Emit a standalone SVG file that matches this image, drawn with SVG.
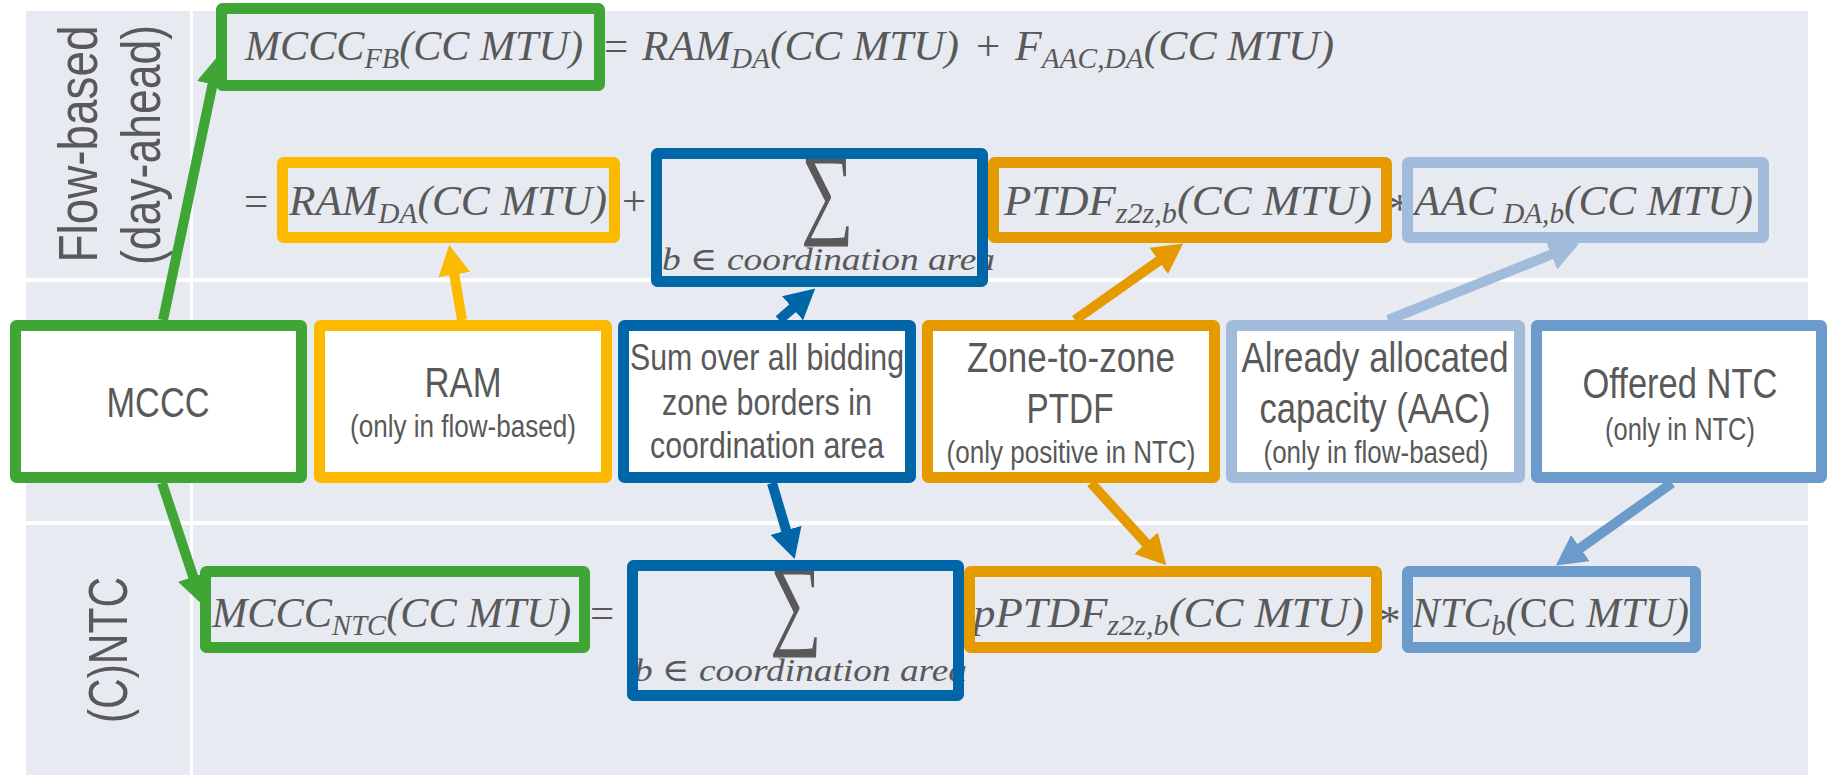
<svg xmlns="http://www.w3.org/2000/svg" width="1829" height="775" viewBox="0 0 1829 775">
<style>
.eq{font-family:"Liberation Serif","DejaVu Serif",serif;font-style:italic;font-size:43px;fill:#595959}
.up{font-family:"Liberation Serif","DejaVu Serif",serif;font-style:normal;font-size:43px;fill:#595959}
.sb{font-size:29px}
.rng{font-family:"Liberation Serif","DejaVu Serif",serif;font-style:italic;font-size:32px;fill:#595959}
.sig{font-family:"Liberation Serif","DejaVu Serif",serif;font-size:101px;fill:#595959}
.lbl{font-family:"Liberation Sans Narrow","Arial Narrow","Liberation Sans",sans-serif;fill:#595959;text-anchor:middle}
.big{font-size:42px}
.mid{font-size:37px}
.sm{font-size:31px}
.row{font-family:"Liberation Sans Narrow","Arial Narrow","Liberation Sans",sans-serif;font-size:55px;fill:#595959;text-anchor:middle}
.bx{fill:none;stroke-width:11;stroke-linejoin:round}
.wb{fill:#ffffff;stroke-width:11;stroke-linejoin:round}
.cn{fill:none;stroke-width:10}
</style>
<defs>
<marker id="hG" viewBox="0 -16 30 32" refX="1" refY="0" markerWidth="30" markerHeight="32" orient="auto" markerUnits="userSpaceOnUse"><path d="M0,-16 L30,0 L0,16 Z" fill="#3FA535"/></marker>
<marker id="hY" viewBox="0 -16 30 32" refX="1" refY="0" markerWidth="30" markerHeight="32" orient="auto" markerUnits="userSpaceOnUse"><path d="M0,-16 L30,0 L0,16 Z" fill="#FBBA00"/></marker>
<marker id="hB" viewBox="0 -16 30 32" refX="1" refY="0" markerWidth="30" markerHeight="32" orient="auto" markerUnits="userSpaceOnUse"><path d="M0,-16 L30,0 L0,16 Z" fill="#0066A8"/></marker>
<marker id="hO" viewBox="0 -16 30 32" refX="1" refY="0" markerWidth="30" markerHeight="32" orient="auto" markerUnits="userSpaceOnUse"><path d="M0,-16 L30,0 L0,16 Z" fill="#E59B00"/></marker>
<marker id="hL" viewBox="0 -16 30 32" refX="1" refY="0" markerWidth="30" markerHeight="32" orient="auto" markerUnits="userSpaceOnUse"><path d="M0,-16 L30,0 L0,16 Z" fill="#A1BCDB"/></marker>
<marker id="hM" viewBox="0 -16 30 32" refX="1" refY="0" markerWidth="30" markerHeight="32" orient="auto" markerUnits="userSpaceOnUse"><path d="M0,-16 L30,0 L0,16 Z" fill="#6A9BCB"/></marker>
</defs>

<g id="panel">
<rect x="26" y="11" width="1782" height="764" fill="#E7EAF1"/>
<rect x="26" y="278" width="1782" height="4" fill="#ffffff"/>
<rect x="26" y="521" width="1782" height="4" fill="#ffffff"/>
<rect x="190" y="11" width="3" height="764" fill="#ffffff"/>
</g>

<g id="row-labels">
<text class="row" transform="translate(97,144) rotate(-90)" textLength="237" lengthAdjust="spacingAndGlyphs">Flow-based</text>
<text class="row" transform="translate(160,145) rotate(-90)" textLength="240" lengthAdjust="spacingAndGlyphs">(day-ahead)</text>
<text class="row" transform="translate(127,650) rotate(-90)" textLength="146" lengthAdjust="spacingAndGlyphs">(C)NTC</text>
</g>

<g id="eq-flow-based">
<text class="eq" x="245" y="60" textLength="338" lengthAdjust="spacingAndGlyphs">MCCC<tspan class="sb" dy="8">FB</tspan><tspan dy="-8">(CC MTU)</tspan></text>
<text class="up" x="604" y="60">=</text>
<text class="eq" x="642" y="60" textLength="317" lengthAdjust="spacingAndGlyphs">RAM<tspan class="sb" dy="8">DA</tspan><tspan dy="-8">(CC MTU)</tspan></text>
<text class="up" x="976" y="60">+</text>
<text class="eq" x="1015" y="60" textLength="319" lengthAdjust="spacingAndGlyphs">F<tspan class="sb" dy="8">AAC,DA</tspan><tspan dy="-8">(CC MTU)</tspan></text>

<text class="up" x="244" y="215">=</text>
<text class="eq" x="289" y="215" textLength="318" lengthAdjust="spacingAndGlyphs">RAM<tspan class="sb" dy="8">DA</tspan><tspan dy="-8">(CC MTU)</tspan></text>
<text class="up" x="622" y="215">+</text>
<text class="sig" x="801" y="225" textLength="53" lengthAdjust="spacingAndGlyphs">∑</text>
<text class="rng" x="662" y="270" textLength="333" lengthAdjust="spacingAndGlyphs">b ∈ coordination area</text>
<text class="eq" x="1004" y="215" textLength="368" lengthAdjust="spacingAndGlyphs">PTDF<tspan class="sb" dy="8">z2z,b</tspan><tspan dy="-8">(CC MTU)</tspan></text>
<text class="up" x="1389" y="223" font-size="36">*</text>
<text class="eq" x="1414" y="215" textLength="339" lengthAdjust="spacingAndGlyphs">AAC<tspan class="sb" dy="8"> DA,b</tspan><tspan dy="-8">(CC MTU)</tspan></text>
</g>

<g id="eq-ntc">
<text class="eq" x="212" y="627" textLength="359" lengthAdjust="spacingAndGlyphs">MCCC<tspan class="sb" dy="8">NTC</tspan><tspan dy="-8">(CC MTU)</tspan></text>
<text class="up" x="590" y="627">=</text>
<text class="sig" x="770" y="636" textLength="52" lengthAdjust="spacingAndGlyphs">∑</text>
<text class="rng" x="634" y="681" textLength="333" lengthAdjust="spacingAndGlyphs">b ∈ coordination area</text>
<text class="eq" x="973" y="627" textLength="391" lengthAdjust="spacingAndGlyphs">pPTDF<tspan class="sb" dy="8">z2z,b</tspan><tspan dy="-8">(CC MTU)</tspan></text>
<text class="up" x="1379" y="635" font-size="36">*</text>
<text class="eq" x="1412" y="627" textLength="277" lengthAdjust="spacingAndGlyphs">NTC<tspan class="sb" dy="8">b</tspan><tspan dy="-8">(</tspan><tspan font-style="normal">CC</tspan> MTU)</text>
</g>

<g id="node-mccc-fb"><rect class="bx" stroke="#3FA535" x="221.5" y="8.5" width="378" height="77" rx="1"/></g>
<g id="node-ram-da"><rect class="bx" stroke="#FBBA00" x="282.5" y="162.5" width="332" height="75" rx="1"/></g>
<g id="node-sum-fb"><rect class="bx" stroke="#0066A8" x="656.5" y="153.5" width="326" height="128" rx="1"/></g>
<g id="node-ptdf-fb"><rect class="bx" stroke="#E59B00" x="993.5" y="162.5" width="393" height="75" rx="1"/></g>
<g id="node-aac-fb"><rect class="bx" stroke="#A1BCDB" x="1407.5" y="162.5" width="356" height="75" rx="1"/></g>

<g id="node-mccc-ntc"><rect class="bx" stroke="#3FA535" x="205.5" y="571.5" width="379" height="76" rx="1"/></g>
<g id="node-sum-ntc"><rect class="bx" stroke="#0066A8" x="632.5" y="565.5" width="326" height="130" rx="1"/></g>
<g id="node-pptdf-ntc"><rect class="bx" stroke="#E59B00" x="969.5" y="571.5" width="407" height="76" rx="1"/></g>
<g id="node-ntc-b"><rect class="bx" stroke="#6A9BCB" x="1407.5" y="571.5" width="288" height="76" rx="1"/></g>

<g id="node-mccc">
<rect class="wb" stroke="#3FA535" x="15.5" y="325.5" width="286" height="152" rx="1"/>
<text class="lbl big" x="158" y="417" textLength="103" lengthAdjust="spacingAndGlyphs">MCCC</text>
</g>
<g id="node-ram">
<rect class="wb" stroke="#FBBA00" x="319.5" y="325.5" width="287" height="152" rx="1"/>
<text class="lbl big" x="463" y="397" textLength="77" lengthAdjust="spacingAndGlyphs">RAM</text>
<text class="lbl sm" x="463" y="437" textLength="226" lengthAdjust="spacingAndGlyphs">(only in flow-based)</text>
</g>
<g id="node-sum">
<rect class="wb" stroke="#0066A8" x="623.5" y="325.5" width="287" height="152" rx="1"/>
<text class="lbl mid" x="767" y="370" textLength="274" lengthAdjust="spacingAndGlyphs">Sum over all bidding</text>
<text class="lbl mid" x="767" y="415" textLength="210" lengthAdjust="spacingAndGlyphs">zone borders in</text>
<text class="lbl mid" x="767" y="458" textLength="234" lengthAdjust="spacingAndGlyphs">coordination area</text>
</g>
<g id="node-ptdf">
<rect class="wb" stroke="#E59B00" x="927.5" y="325.5" width="287" height="152" rx="1"/>
<text class="lbl big" x="1071" y="372" textLength="208" lengthAdjust="spacingAndGlyphs">Zone-to-zone</text>
<text class="lbl big" x="1070" y="423" textLength="87" lengthAdjust="spacingAndGlyphs">PTDF</text>
<text class="lbl sm" x="1071" y="463" textLength="249" lengthAdjust="spacingAndGlyphs">(only positive in NTC)</text>
</g>
<g id="node-aac">
<rect class="wb" stroke="#A1BCDB" x="1231.5" y="325.5" width="288" height="152" rx="1"/>
<text class="lbl big" x="1375" y="372" textLength="267" lengthAdjust="spacingAndGlyphs">Already allocated</text>
<text class="lbl big" x="1375" y="423" textLength="231" lengthAdjust="spacingAndGlyphs">capacity (AAC)</text>
<text class="lbl sm" x="1376" y="463" textLength="225" lengthAdjust="spacingAndGlyphs">(only in flow-based)</text>
</g>
<g id="node-ntc">
<rect class="wb" stroke="#6A9BCB" x="1536.5" y="325.5" width="285" height="152" rx="1"/>
<text class="lbl big" x="1680" y="398" textLength="195" lengthAdjust="spacingAndGlyphs">Offered NTC</text>
<text class="lbl sm" x="1680" y="440" textLength="150" lengthAdjust="spacingAndGlyphs">(only in NTC)</text>
</g>

<g id="connectors">
<line class="cn" stroke="#3FA535" x1="163" y1="320" x2="212.8" y2="83.4" marker-end="url(#hG)"/>
<line class="cn" stroke="#3FA535" x1="162" y1="483" x2="193.5" y2="577.6" marker-end="url(#hG)"/>
<line class="cn" stroke="#FBBA00" x1="462" y1="320" x2="454.1" y2="273.6" marker-end="url(#hY)"/>
<line class="cn" stroke="#0066A8" x1="779" y1="320" x2="793.3" y2="307.6" marker-end="url(#hB)"/>
<line class="cn" stroke="#0066A8" x1="772" y1="483" x2="786.4" y2="531.3" marker-end="url(#hB)"/>
<line class="cn" stroke="#E59B00" x1="1075" y1="320" x2="1159.5" y2="260.3" marker-end="url(#hO)"/>
<line class="cn" stroke="#E59B00" x1="1091" y1="483" x2="1146.7" y2="543.9" marker-end="url(#hO)"/>
<line class="cn" stroke="#A1BCDB" x1="1388" y1="320" x2="1552.2" y2="254.2" marker-end="url(#hL)"/>
<line class="cn" stroke="#6A9BCB" x1="1672" y1="483" x2="1579.5" y2="548.6" marker-end="url(#hM)"/>
</g>
</svg>
